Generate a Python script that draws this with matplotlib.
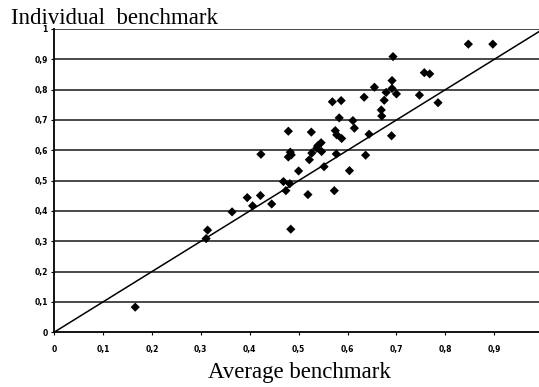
import numpy as np
import matplotlib
matplotlib.use("Agg")
import matplotlib.pyplot as plt
from matplotlib.ticker import FuncFormatter

# values (average vs individual benchmark)
avg_bench = [0.166, 0.314, 0.311, 0.364, 0.395, 0.406, 0.422, 0.445, 0.423,
             0.469, 0.482, 0.474, 0.484, 0.500, 0.519, 0.573, 0.604, 0.552,
             0.522, 0.637, 0.577, 0.479, 0.485, 0.483, 0.527, 0.547, 0.537,
             0.539, 0.546, 0.479, 0.526, 0.575, 0.578, 0.588, 0.644, 0.690,
             0.614, 0.611, 0.583, 0.669, 0.670, 0.569, 0.587, 0.634, 0.675,
             0.785, 0.747, 0.700, 0.679, 0.691, 0.655, 0.691, 0.757, 0.768,
             0.693, 0.847, 0.897]
ind_bench = [0.083, 0.337, 0.309, 0.397, 0.444, 0.417, 0.451, 0.423, 0.587,
             0.497, 0.490, 0.467, 0.340, 0.532, 0.454, 0.467, 0.533, 0.546,
             0.569, 0.584, 0.588, 0.578, 0.585, 0.594, 0.591, 0.596, 0.607,
             0.615, 0.625, 0.663, 0.660, 0.665, 0.651, 0.639, 0.653, 0.648,
             0.673, 0.698, 0.707, 0.733, 0.713, 0.760, 0.764, 0.775, 0.765,
             0.757, 0.782, 0.786, 0.791, 0.804, 0.808, 0.830, 0.856, 0.852,
             0.909, 0.950, 0.950]
x_ticks = [0, 0.1, 0.2, 0.3, 0.4, 0.5, 0.6, 0.7, 0.8, 0.9]
y_ticks = [0, 0.1, 0.2, 0.3, 0.4, 0.5, 0.6, 0.7, 0.8, 0.9, 1]


def comma_fmt(v, pos):
    if abs(v - round(v)) < 1e-9:
        return str(int(round(v)))
    return ("%.1f" % v).replace(".", ",")


fig = plt.figure(figsize=(5.39, 3.87), dpi=100)
ax = fig.add_axes([54 / 539, 1 - 332.3 / 387, 485 / 539, 303.3 / 387])

for yv in y_ticks[1:]:
    ax.axhline(yv, color="#3a3a3a", lw=1.3, zorder=1)

ax.plot([0, 1], [0, 1], color="black", lw=1.1, zorder=2)
ax.scatter(avg_bench, ind_bench, marker="D", s=22, color="black",
           edgecolors="none", zorder=3)

ax.set_xlim(0, 485 / 489.2)
ax.set_ylim(0, 1)
ax.set_xticks(x_ticks)
ax.set_yticks(y_ticks)
ax.xaxis.set_major_formatter(FuncFormatter(comma_fmt))
ax.yaxis.set_major_formatter(FuncFormatter(comma_fmt))
ax.tick_params(axis="both", labelsize=5.5, length=2.5, width=0.8,
               color="black")
ax.tick_params(axis="x", pad=7)
ax.tick_params(axis="y", pad=2)
for lab in ax.get_xticklabels() + ax.get_yticklabels():
    lab.set_fontweight("bold")

ax.spines["top"].set_visible(False)
ax.spines["right"].set_visible(False)
ax.spines["left"].set_linewidth(1.3)
ax.spines["bottom"].set_linewidth(1.3)

fig.text(11 / 539, 1 - 24 / 387, "Individual  benchmark",
         family="Liberation Serif", fontsize=16.5, ha="left", va="baseline")
fig.text(299 / 539, 1 - 378 / 387, "Average benchmark",
         family="Liberation Serif", fontsize=16.5, ha="center", va="baseline")

fig.savefig("out.png", dpi=100)
